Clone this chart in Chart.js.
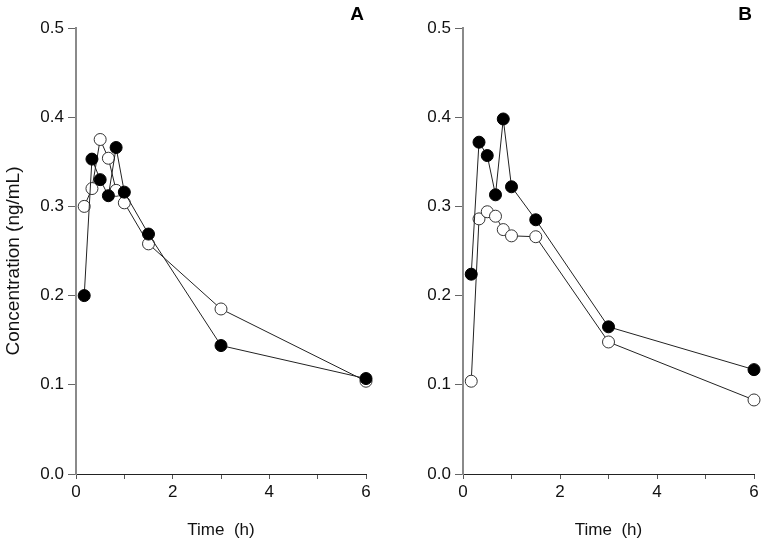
<!DOCTYPE html>
<html lang="en">
<head>
    <meta charset="UTF-8">
    <title>Concentration vs Time</title>
    <script src="https://cdn.jsdelivr.net/npm/chart.js"></script>
    <style>
        body { margin: 0; background: #fff; font-family: "Liberation Sans", Arial, sans-serif; }
        #wrap { position: relative; width: 764px; height: 541px; }
        .panel { position: absolute; top: 0; width: 382px; height: 541px; }
        #panelA { left: 0; }
        #panelB { left: 382px; }
    </style>
</head>
<body>
<div id="wrap">
    <div class="panel" id="panelA"><canvas id="chartA"></canvas></div>
    <div class="panel" id="panelB"><canvas id="chartB"></canvas></div>
</div>
<script>
    // sampling times (h)
    const times = [0.17, 0.33, 0.5, 0.67, 0.83, 1, 1.5, 3, 6];

    // panel A
    const aFilled = [0.200, 0.353, 0.330, 0.312, 0.366, 0.316, 0.269, 0.144, 0.107];
    const aOpen   = [0.300, 0.320, 0.375, 0.354, 0.318, 0.304, 0.258, 0.185, 0.104];

    // panel B
    const bFilled = [0.224, 0.372, 0.357, 0.313, 0.398, 0.322, 0.285, 0.165, 0.117];
    const bOpen   = [0.104, 0.286, 0.294, 0.289, 0.274, 0.267, 0.266, 0.148, 0.083];

    const yTicks = [0, 0.1, 0.2, 0.3, 0.4, 0.5];
    const xLabels = [0, 2, 4, 6];
    const yTitle = 'Concentration (ng/mL)';

    const FONT = "'Liberation Sans', Arial, sans-serif";

    function pts(vals) {
        return times.map((t, i) => ({ x: t, y: vals[i] }));
    }

    // panel letter top right + rotated y title (only on A)
    const panelText = {
        id: 'panelText',
        afterDraw(chart, args, opts) {
            const ctx = chart.ctx;
            ctx.save();
            ctx.font = 'bold 19px ' + FONT;
            ctx.fillStyle = '#000';
            ctx.textAlign = 'center';
            ctx.textBaseline = 'middle';
            ctx.fillText(opts.letter, chart.chartArea.right - 9, 15);
            if (opts.yTitle) {
                ctx.font = '19px ' + FONT;
                ctx.fillStyle = '#111';
                ctx.translate(14, 261);
                ctx.rotate(-Math.PI / 2);
                ctx.fillText(opts.yTitle, 0, 0);
            }
            ctx.restore();
        }
    };

    function makeChart(id, filled, open, letter, yWidth, padRight, title) {
        return new Chart(document.getElementById(id), {
            type: 'line',
            data: {
                datasets: [
                    {
                        data: pts(filled),
                        borderColor: '#222',
                        borderWidth: 1,
                        backgroundColor: '#000',
                        pointBackgroundColor: '#000',
                        pointBorderColor: '#000',
                        pointRadius: 6,
                        pointBorderWidth: 1,
                        tension: 0,
                        clip: false
                    },
                    {
                        data: pts(open),
                        borderColor: '#222',
                        borderWidth: 1,
                        pointBackgroundColor: '#fff',
                        pointBorderColor: '#333',
                        pointRadius: 6,
                        pointBorderWidth: 1,
                        tension: 0,
                        clip: false
                    }
                ]
            },
            options: {
                responsive: true,
                maintainAspectRatio: false,
                animation: false,
                layout: { padding: { top: 28, right: padRight, left: 0, bottom: 0 } },
                plugins: {
                    legend: { display: false },
                    tooltip: { enabled: false },
                    panelText: { letter: letter, yTitle: title }
                },
                scales: {
                    x: {
                        type: 'linear',
                        min: 0,
                        max: 6,
                        afterFit(s) { s.height = 67; },
                        afterBuildTicks(s) {
                            s.ticks = [0, 1, 2, 3, 4, 5, 6].map(v => ({ value: v }));
                        },
                        border: { color: '#222', width: 1 },
                        grid: { drawOnChartArea: false, drawTicks: true, tickLength: 5, color: '#555' },
                        ticks: {
                            autoSkip: false,
                            maxRotation: 0,
                            padding: 3,
                            color: '#111',
                            font: { size: 17, family: FONT },
                            callback: v => xLabels.includes(v) ? String(v) : ''
                        },
                        title: {
                            display: true,
                            text: 'Time  (h)',
                            color: '#111',
                            font: { size: 17, family: FONT },
                            padding: { top: 9, bottom: 0 }
                        }
                    },
                    y: {
                        min: 0,
                        max: 0.5,
                        afterFit(s) { s.width = yWidth; },
                        afterBuildTicks(s) {
                            s.ticks = yTicks.map(v => ({ value: v }));
                        },
                        border: { color: '#8a8a8a', width: 2 },
                        grid: { drawOnChartArea: false, drawTicks: true, tickLength: 8, color: '#666' },
                        ticks: {
                            padding: 4,
                            color: '#111',
                            font: { size: 17, family: FONT },
                            callback: v => v.toFixed(1)
                        }
                    }
                }
            },
            plugins: [panelText]
        });
    }

    makeChart('chartA', aFilled, aOpen, 'A', 76, 16, yTitle);
    makeChart('chartB', bFilled, bOpen, 'B', 81, 10, null);
</script>
</body>
</html>
